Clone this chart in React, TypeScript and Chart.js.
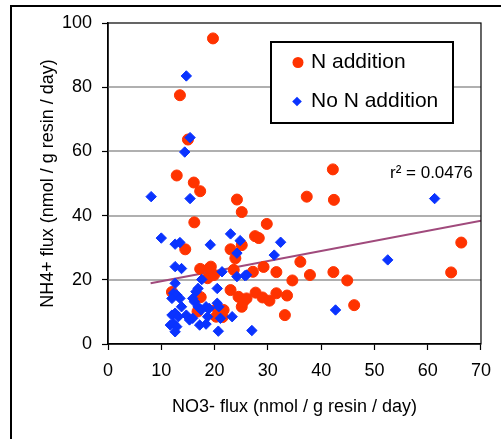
import React, { useEffect, useRef } from 'react';
import { Chart, registerables } from 'chart.js';

Chart.register(...registerables);

const xTicks = [0, 10, 20, 30, 40, 50, 60, 70];
const yTicks = [0, 20, 40, 60, 80, 100];

const seriesLabels = ['N addition', 'No N addition'];
const xTitle = 'NO3- flux (nmol / g resin / day)';
const yTitle = 'NH4+ flux (nmol / g resin / day)';
const rSquaredLabel = 'r\u00B2 = 0.0476';

const nAddX = [19.7, 13.5, 15.0, 12.9, 16.1, 17.3, 24.2, 25.1, 16.2, 29.8, 27.6, 28.3, 25.1, 14.5, 23.0, 23.9, 17.3, 19.3, 18.7, 19.9, 23.6, 27.2, 29.2, 31.6, 34.6, 12.0, 17.4, 23.0, 24.5, 25.1, 25.4, 27.7, 29.0, 30.3, 31.6, 33.6, 33.2, 16.8, 20.3, 21.5, 36.1, 37.9, 42.3, 44.9, 46.2, 42.2, 37.3, 42.4, 66.3, 64.4, 20.5, 21.7, 26.0, 19.0];
const nAddY = [95.2, 77.5, 63.7, 52.5, 50.3, 47.6, 45.0, 41.1, 37.9, 37.4, 33.6, 33.0, 30.8, 29.5, 29.5, 26.7, 23.4, 24.1, 20.5, 21.5, 23.1, 22.5, 24.0, 22.4, 19.8, 16.2, 14.6, 16.8, 14.7, 11.6, 13.2, 16.0, 14.5, 13.5, 15.8, 15.1, 9.0, 10.1, 8.5, 8.4, 25.6, 21.5, 22.4, 19.8, 12.1, 54.4, 45.9, 44.9, 31.6, 22.3, 11.1, 10.6, 14.2, 23.6];

const noNX = [14.7, 15.4, 14.4, 8.1, 15.4, 10.0, 12.6, 13.5, 19.2, 23.0, 24.8, 24.2, 32.4, 31.2, 12.6, 13.8, 21.4, 24.2, 25.7, 17.6, 12.6, 16.9, 16.5, 20.5, 12.3, 12.9, 12.0, 13.5, 13.8, 15.9, 16.2, 16.9, 17.5, 18.4, 19.0, 20.5, 20.8, 12.0, 12.6, 13.2, 14.7, 15.3, 15.9, 18.7, 21.1, 23.3, 11.7, 12.3, 12.9, 12.6, 17.2, 18.4, 20.7, 27.0, 61.3, 52.5, 42.7, 26.0];
const noNY = [83.5, 64.3, 59.8, 45.9, 45.3, 33.0, 31.1, 31.6, 30.9, 34.3, 32.2, 28.3, 31.7, 27.7, 24.1, 23.5, 22.5, 21.0, 21.3, 20.1, 18.9, 17.3, 16.3, 17.3, 15.8, 15.3, 14.2, 14.2, 11.6, 14.2, 13.2, 11.6, 10.6, 11.6, 11.1, 12.7, 11.6, 9.0, 9.6, 8.5, 9.0, 7.5, 8.0, 8.5, 8.0, 8.5, 5.9, 6.4, 5.4, 3.8, 5.9, 6.2, 4.0, 4.2, 45.3, 26.2, 10.6, 21.5];

const trendX = [8, 70];
const trendY = [18.9, 38.4];

const FONT = "'Liberation Sans', Arial, sans-serif";
const RED = '#FF3300';
const BLUE = '#0A33FF';
const TREND = '#A04A7C';
const GRID = '#B0B0B0';

const toPoints = (xs: number[], ys: number[]) => xs.map((x, i) => ({ x, y: ys[i] }));

const decorPlugin = {
  id: 'decor',
  beforeDraw(chart: any) {
    const { ctx, width, height } = chart;
    ctx.save();
    ctx.fillStyle = '#ffffff';
    ctx.fillRect(0, 0, width, height);
    ctx.strokeStyle = '#000';
    ctx.lineWidth = 2;
    ctx.strokeRect(11, 6, width + 50, height + 50);
    ctx.restore();
  },
  beforeDatasetsDraw(chart: any) {
    const { ctx, chartArea: a, scales } = chart;
    ctx.save();
    ctx.strokeStyle = GRID;
    ctx.lineWidth = 2;
    yTicks.forEach((v) => {
      if (v === yTicks[0] || v === yTicks[yTicks.length - 1]) return;
      const py = Math.round(scales.y.getPixelForValue(v));
      ctx.beginPath();
      ctx.moveTo(a.left, py);
      ctx.lineTo(a.right, py);
      ctx.stroke();
    });
    ctx.restore();
  },
  afterDraw(chart: any) {
    const { ctx, chartArea: a } = chart;
    ctx.save();
    // plot frame
    ctx.strokeStyle = '#000';
    ctx.lineWidth = 1.2;
    ctx.strokeRect(a.left, a.top, a.right - a.left, a.bottom - a.top);

    // legend box
    const bx = a.left + 163;
    const by = a.top + 19;
    const bw = 182;
    const bh = 81;
    ctx.fillStyle = '#fff';
    ctx.fillRect(bx, by, bw, bh);
    ctx.lineWidth = 2;
    ctx.strokeStyle = '#000';
    ctx.strokeRect(bx, by, bw, bh);

    // markers
    ctx.fillStyle = RED;
    ctx.beginPath();
    ctx.arc(bx + 27, by + 20.5, 5.5, 0, Math.PI * 2);
    ctx.fill();
    ctx.fillStyle = BLUE;
    ctx.beginPath();
    const dx = bx + 26, dy = by + 59.5, r = 4.8;
    ctx.moveTo(dx - r, dy);
    ctx.lineTo(dx, dy - r);
    ctx.lineTo(dx + r, dy);
    ctx.lineTo(dx, dy + r);
    ctx.closePath();
    ctx.fill();

    ctx.fillStyle = '#000';
    ctx.font = `21px ${FONT}`;
    ctx.textBaseline = 'alphabetic';
    ctx.textAlign = 'left';
    ctx.fillText(seriesLabels[0], bx + 40, by + 26);
    ctx.fillText(seriesLabels[1], bx + 40, by + 64.5);

    // r squared
    ctx.font = `17px ${FONT}`;
    ctx.fillText(rSquaredLabel, a.left + 282, a.top + 155);
    ctx.restore();
  },
};

export default function App() {
  const ref = useRef<HTMLCanvasElement | null>(null);

  useEffect(() => {
    if (!ref.current) return;
    const chart = new Chart(ref.current, {
      type: 'scatter',
      data: {
        datasets: [
          {
            type: 'line',
            label: 'trend',
            data: toPoints(trendX, trendY),
            borderColor: TREND,
            borderWidth: 2,
            pointRadius: 0,
            fill: false,
            order: 3,
          } as any,
          {
            label: seriesLabels[0],
            data: toPoints(nAddX, nAddY),
            pointStyle: 'circle',
            pointRadius: 5.5,
            pointBorderWidth: 1,
            backgroundColor: RED,
            borderColor: RED,
            order: 2,
          },
          {
            label: seriesLabels[1],
            data: toPoints(noNX, noNY),
            pointStyle: 'rectRot',
            pointRadius: 5.2,
            pointBorderWidth: 1,
            backgroundColor: BLUE,
            borderColor: BLUE,
            order: 1,
          },
        ],
      },
      options: {
        responsive: false,
        animation: false,
        layout: { padding: { top: 23, right: 11, left: 0, bottom: 0 } },
        plugins: {
          legend: { display: false },
          tooltip: { enabled: false },
        },
        scales: {
          x: {
            type: 'linear',
            min: 0,
            max: 70,
            afterBuildTicks: (s: any) => {
              s.ticks = xTicks.map((v) => ({ value: v }));
            },
            afterFit: (s: any) => {
              s.height = 95;
            },
            grid: {
              drawOnChartArea: false,
              drawTicks: true,
              tickLength: 6,
              tickColor: '#000',
              tickWidth: 1.2,
            },
            border: { display: true, color: '#000', width: 1.5 },
            ticks: {
              padding: 10,
              color: '#000',
              font: { family: FONT, size: 18 },
              maxRotation: 0,
            },
            title: {
              display: true,
              text: xTitle,
              color: '#000',
              font: { family: FONT, size: 18 },
              padding: { top: 0, bottom: 21 },
            },
          },
          y: {
            type: 'linear',
            min: 0,
            max: 100,
            afterBuildTicks: (s: any) => {
              s.ticks = yTicks.map((v) => ({ value: v }));
            },
            afterFit: (s: any) => {
              s.width = 108;
            },
            grid: {
              drawOnChartArea: false,
              drawTicks: true,
              tickLength: 6,
              tickColor: '#000',
              tickWidth: 1.2,
            },
            border: { display: true, color: '#000', width: 1.5 },
            ticks: {
              padding: 10,
              color: '#000',
              font: { family: FONT, size: 18 },
            },
            title: {
              display: true,
              text: yTitle,
              color: '#000',
              font: { family: FONT, size: 18 },
              padding: { top: 37, bottom: 0 },
            },
          },
        },
      },
      plugins: [decorPlugin],
    });
    return () => chart.destroy();
  }, []);

  return (
    <div style={{ position: 'fixed', left: 0, top: 0, width: 501, height: 439, background: '#fff' }}>
      <canvas ref={ref} width={501} height={439} style={{ display: 'block', width: 501, height: 439 }} />
    </div>
  );
}
